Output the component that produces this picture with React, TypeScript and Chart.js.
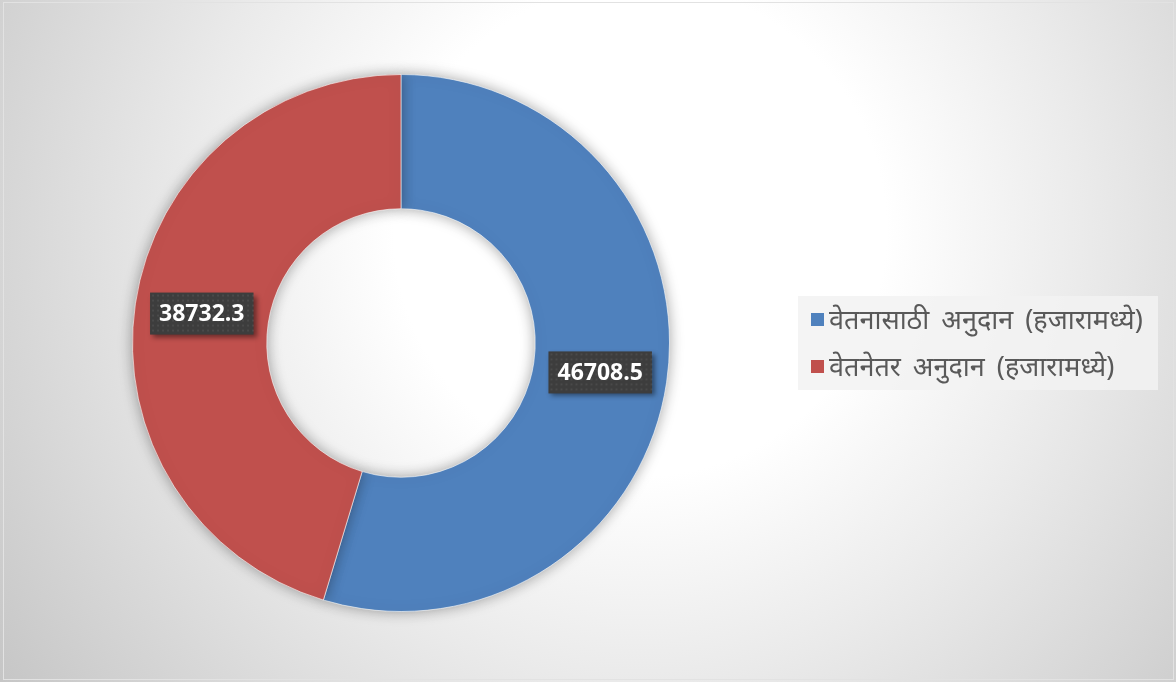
import React, { useEffect, useRef } from "react";
import { Chart, registerables } from "chart.js";

Chart.register(...registerables);

const categories: string[] = [
  "वेतनासाठी अनुदान (हजारामध्ये)",
  "वेतनेतर अनुदान (हजारामध्ये)",
];
const values: number[] = [46708.5, 38732.3];
const colors: string[] = ["#4F81BD", "#C0504D"];

const W = 1176;
const H = 682;

const bgPlugin = {
  id: "bgPlugin",
  beforeDraw(chart: any) {
    const ctx = chart.ctx as CanvasRenderingContext2D;
    ctx.save();
    const g = ctx.createRadialGradient(640, 230, 0, 640, 230, 820);
    g.addColorStop(0, "#ffffff");
    g.addColorStop(0.3, "#ffffff");
    g.addColorStop(0.55, "#eaeaea");
    g.addColorStop(1, "#c2c2c2");
    ctx.fillStyle = g;
    ctx.fillRect(0, 0, W, H);
    ctx.strokeStyle = "#e2e2e2";
    ctx.lineWidth = 1;
    ctx.strokeRect(3.5, 2.5, W - 6, H - 5);
    ctx.restore();
  },
  beforeDatasetsDraw(chart: any) {
    const ctx = chart.ctx as CanvasRenderingContext2D;
    ctx.save();
    ctx.shadowColor = "rgba(0,0,0,0.35)";
    ctx.shadowBlur = 14;
    ctx.shadowOffsetX = 0;
    ctx.shadowOffsetY = 0;
  },
  afterDatasetsDraw(chart: any) {
    const ctx = chart.ctx as CanvasRenderingContext2D;
    ctx.restore();
    const meta = chart.getDatasetMeta(0);
    meta.data.forEach((arc: any, i: number) => {
      const p = arc.tooltipPosition();
      const text = String(values[i]);
      ctx.save();
      ctx.font = 'bold 23px "Open Sans", "Liberation Sans", sans-serif';
      const tw = ctx.measureText(text).width;
      const bw = tw + 18;
      const bh = 42;
      ctx.shadowColor = "rgba(0,0,0,0.45)";
      ctx.shadowBlur = 5;
      ctx.shadowOffsetX = 3;
      ctx.shadowOffsetY = 3;
      ctx.fillStyle = "#3d3d3d";
      ctx.fillRect(p.x - bw / 2, p.y - bh / 2, bw, bh);
      ctx.shadowColor = "transparent";
      ctx.fillStyle = "rgba(255,255,255,0.07)";
      for (let x = p.x - bw / 2 + 2; x < p.x + bw / 2 - 1; x += 5) {
        for (let y = p.y - bh / 2 + 2; y < p.y + bh / 2 - 1; y += 5) {
          ctx.fillRect(x, y, 2, 2);
        }
      }
      ctx.fillStyle = "#ffffff";
      ctx.textAlign = "center";
      ctx.textBaseline = "middle";
      ctx.fillText(text, p.x, p.y + 1);
      ctx.restore();
    });
  },
  afterDraw(chart: any) {
    const ctx = chart.ctx as CanvasRenderingContext2D;
    ctx.save();
    ctx.fillStyle = "rgba(242,242,242,0.85)";
    ctx.fillRect(798, 296, 360, 94);
    ctx.font = '27px "Noto Sans", "Noto Sans Devanagari", sans-serif';
    (ctx as any).wordSpacing = "5px";
    ctx.textBaseline = "middle";
    ctx.textAlign = "left";
    const ys = [320, 367];
    categories.forEach((c, i) => {
      ctx.fillStyle = colors[i];
      ctx.fillRect(811, ys[i] - 7, 13, 13);
      ctx.fillStyle = "#595959";
      ctx.fillText(c, 829, ys[i] + 1);
    });
    ctx.restore();
  },
};

export default function App() {
  const ref = useRef<HTMLCanvasElement | null>(null);
  useEffect(() => {
    document.body.style.margin = "0";
    if (!ref.current) return;
    const chart = new Chart(ref.current, {
      type: "doughnut",
      data: {
        labels: categories,
        datasets: [
          {
            data: values,
            backgroundColor: colors,
            borderColor: "rgba(255,255,255,0.6)",
            borderWidth: 1,
          },
        ],
      },
      options: {
        animation: false,
        responsive: false,
        cutout: "50%",
        layout: { padding: { left: 132, right: 506, top: 74, bottom: 70 } },
        plugins: {
          legend: { display: false },
          tooltip: { enabled: false },
        },
      },
      plugins: [bgPlugin],
    });
    return () => chart.destroy();
  }, []);
  return (
    <div style={{ position: "fixed", left: 0, top: 0, width: W, height: H }}>
      <canvas ref={ref} width={W} height={H} style={{ width: W, height: H }} />
    </div>
  );
}
